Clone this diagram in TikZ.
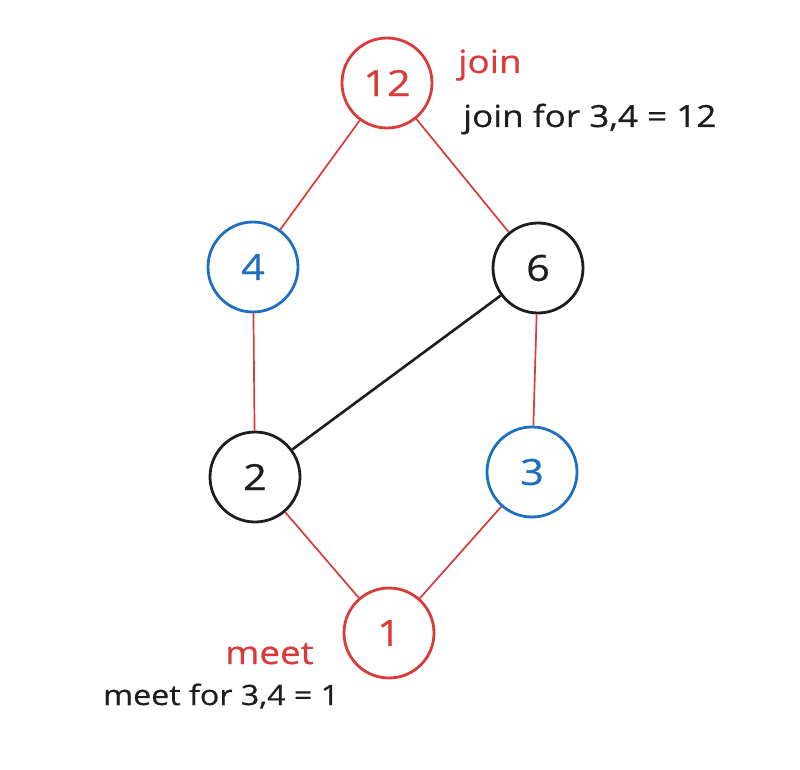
\documentclass[tikz,border=0pt]{standalone}
\usepackage{fontspec}
\setmainfont{Open Sans}[FakeStretch=1.15,FakeBold=0.6]
\definecolor{exred}{HTML}{D93A3A}
\definecolor{exblue}{HTML}{1F6FC0}
\definecolor{exblack}{HTML}{1E1E1E}
\begin{document}
\begin{tikzpicture}[x=1pt,y=-1pt,
  vert/.style={circle,draw,line width=2.8pt,minimum size=90pt,inner sep=0pt,
    font=\fontsize{36}{38}\selectfont},
  redv/.style={vert,draw=exred,text=exred},
  bluev/.style={vert,draw=exblue,text=exblue},
  blackv/.style={vert,draw=exblack,text=exblack},
  rededge/.style={draw=exred,line width=1.7pt},
  blackedge/.style={draw=exblack,line width=2.6pt},
  redlabel/.style={anchor=base west,inner sep=0pt,text=exred,font=\fontsize{32}{34}\selectfont},
  blacklabel/.style={anchor=base west,inner sep=0pt,text=exblack,font=\fontsize{28}{30}\selectfont}]
\useasboundingbox (0,0) rectangle (800,770);
\fill[white] (0,0) rectangle (800,770);
\node[redv]   (n12) at (387,83)  {12};
\node[bluev]  (n4)  at (253,267) {4};
\node[blackv] (n6)  at (538,268) {6};
\node[blackv] (n2)  at (255,477) {2};
\node[bluev]  (n3)  at (532,472) {3};
\node[redv]   (n1)  at (389,633) {1};
\draw[rededge] (n12) -- (n4);
\draw[rededge] (n12) -- (n6);
\draw[rededge] (n4) -- (n2);
\draw[rededge] (n6) -- (n3);
\draw[blackedge] (n6) -- (n2);
\draw[rededge] (n2) -- (n1);
\draw[rededge] (n3) -- (n1);
\node[redlabel] (lj) at (458,73) {join};
\node[blacklabel,font=\fontsize{30.5}{32}\selectfont] (ljt) at (463,127) {join for 3,4 = 12};
\node[redlabel] (lm) at (225,664) {meet};
\node[blacklabel] (lmt) at (103,705) {meet for 3,4 = 1};
\end{tikzpicture}
\end{document}
